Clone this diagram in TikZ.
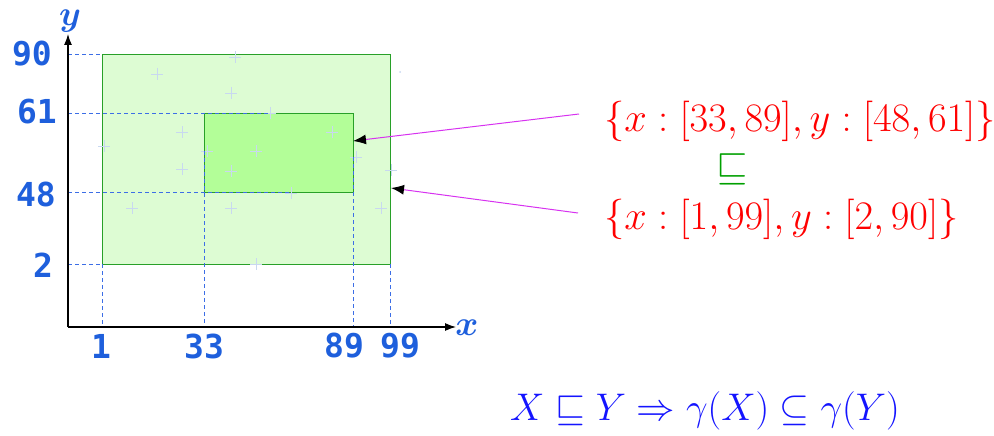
\RequirePackage{fix-cm}
\documentclass[tikz,border=0pt]{standalone}
\usepackage{fontspec}
\usepackage{amsmath}
\newfontfamily\axisfont{DejaVu Sans Mono}
\usetikzlibrary{arrows.meta}
\definecolor{axisblue}{RGB}{30,95,220}
\definecolor{dashblue}{RGB}{60,110,230}
\definecolor{outerfill}{RGB}{221,252,211}
\definecolor{innerfill}{RGB}{179,254,152}
\definecolor{boxgreen}{RGB}{40,160,40}
\definecolor{relgreen}{RGB}{0,160,0}
\definecolor{plusgrey}{RGB}{200,216,240}
\definecolor{arrowmag}{RGB}{215,50,240}
\definecolor{formblue}{RGB}{20,20,255}
\tikzset{
  ticklabel/.style={text=axisblue, font=\axisfont\bfseries\fontsize{33}{36}\selectfont, inner sep=0pt},
  axislabel/.style={text=axisblue, font=\fontsize{35}{40}\selectfont, inner sep=0pt},
  redtext/.style={text=red, font=\fontsize{40.5}{46}\selectfont, inner sep=0pt},
  lawtext/.style={text=formblue, font=\fontsize{38.5}{44}\selectfont, inner sep=0pt},
  guide/.style={draw=dashblue, line width=1pt, dash pattern=on 4pt off 3pt},
  axisline/.style={draw=black, line width=1.2pt, -{Latex[length=11pt,width=8pt]}},
  pointer/.style={draw=arrowmag, line width=1pt, -{Latex[length=13pt,width=10pt,color=black,fill=black]}},
  boxouter/.style={draw=boxgreen, fill=outerfill, line width=1pt},
  boxinner/.style={draw=boxgreen, fill=innerfill, line width=1pt},
  plusmark/.style={draw=plusgrey, line width=0.8pt}
}
\begin{document}
\begin{tikzpicture}[x=1pt,y=-1pt]
\useasboundingbox (0,0) rectangle (994,436);
% rectangles
\draw[boxouter] (102,55) rectangle (390,264);
\draw[boxinner] (204,113) rectangle (353,192);
% plus marks
\foreach \px/\py in {235/57,157/74,231/93,270/113,182/132,332/132,104/146,207/151,256/151,356/157,182/169,231/171,391/170,291/193,132/208,231/208,381/208,256/264}{
  \draw[plusmark] (\px-6,\py) -- (\px+6,\py) (\px,\py-6) -- (\px,\py+6);
}
\fill[plusgrey] (400,72) circle (1pt);
% guides
\draw[guide] (68,55) -- (102,55);
\draw[guide] (68,113) -- (270,113);
\draw[guide] (68,192) -- (290,192);
\draw[guide] (68,264) -- (102,264);
\draw[guide] (102,264) -- (102,327);
\draw[guide] (204,151) -- (204,327);
\draw[guide] (353,157) -- (353,327);
\draw[guide] (390,264) -- (390,327);
% axes
\coordinate (O) at (68,327);
\coordinate (ytip) at (68,34);
\coordinate (xtip) at (456,327);
\draw[axisline] (O) -- (ytip);
\draw[axisline] (O) -- (xtip);
\node[axislabel] (ylab) at (70,21) {$\boldsymbol{y}$};
\node[axislabel] (xlab) at (467,328) {$\boldsymbol{x}$};
% tick labels
\node[ticklabel] (t90) at (32,54) {90};
\node[ticklabel] (t61) at (37,112) {61};
\node[ticklabel] (t48) at (36,194) {48};
\node[ticklabel] (t2) at (43,265) {2};
\node[ticklabel] (b1) at (101,346) {1};
\node[ticklabel] (b33) at (204,346) {33};
\node[ticklabel] (b89) at (344,346) {89};
\node[ticklabel] (b99) at (400,346) {99};
% texts
\node[redtext, anchor=west] (inner) at (604,121) {$\{x:[33,89],y:[48,61]\}$};
\node[redtext, text=relgreen] (rel) at (732,169) {$\sqsubseteq$};
\node[redtext, anchor=west] (outer) at (604,219) {$\{x:[1,99],y:[2,90]\}$};
\node[lawtext] (law) at (705,411) {$X\sqsubseteq Y\Rightarrow\gamma(X)\subseteq\gamma(Y)$};
% pointers
\coordinate (p1s) at (579,114);
\coordinate (p1e) at (353,141);
\coordinate (p2s) at (578,213);
\coordinate (p2e) at (391,188);
\draw[pointer] (p1s) -- (p1e);
\draw[pointer] (p2s) -- (p2e);
\end{tikzpicture}
\end{document}
